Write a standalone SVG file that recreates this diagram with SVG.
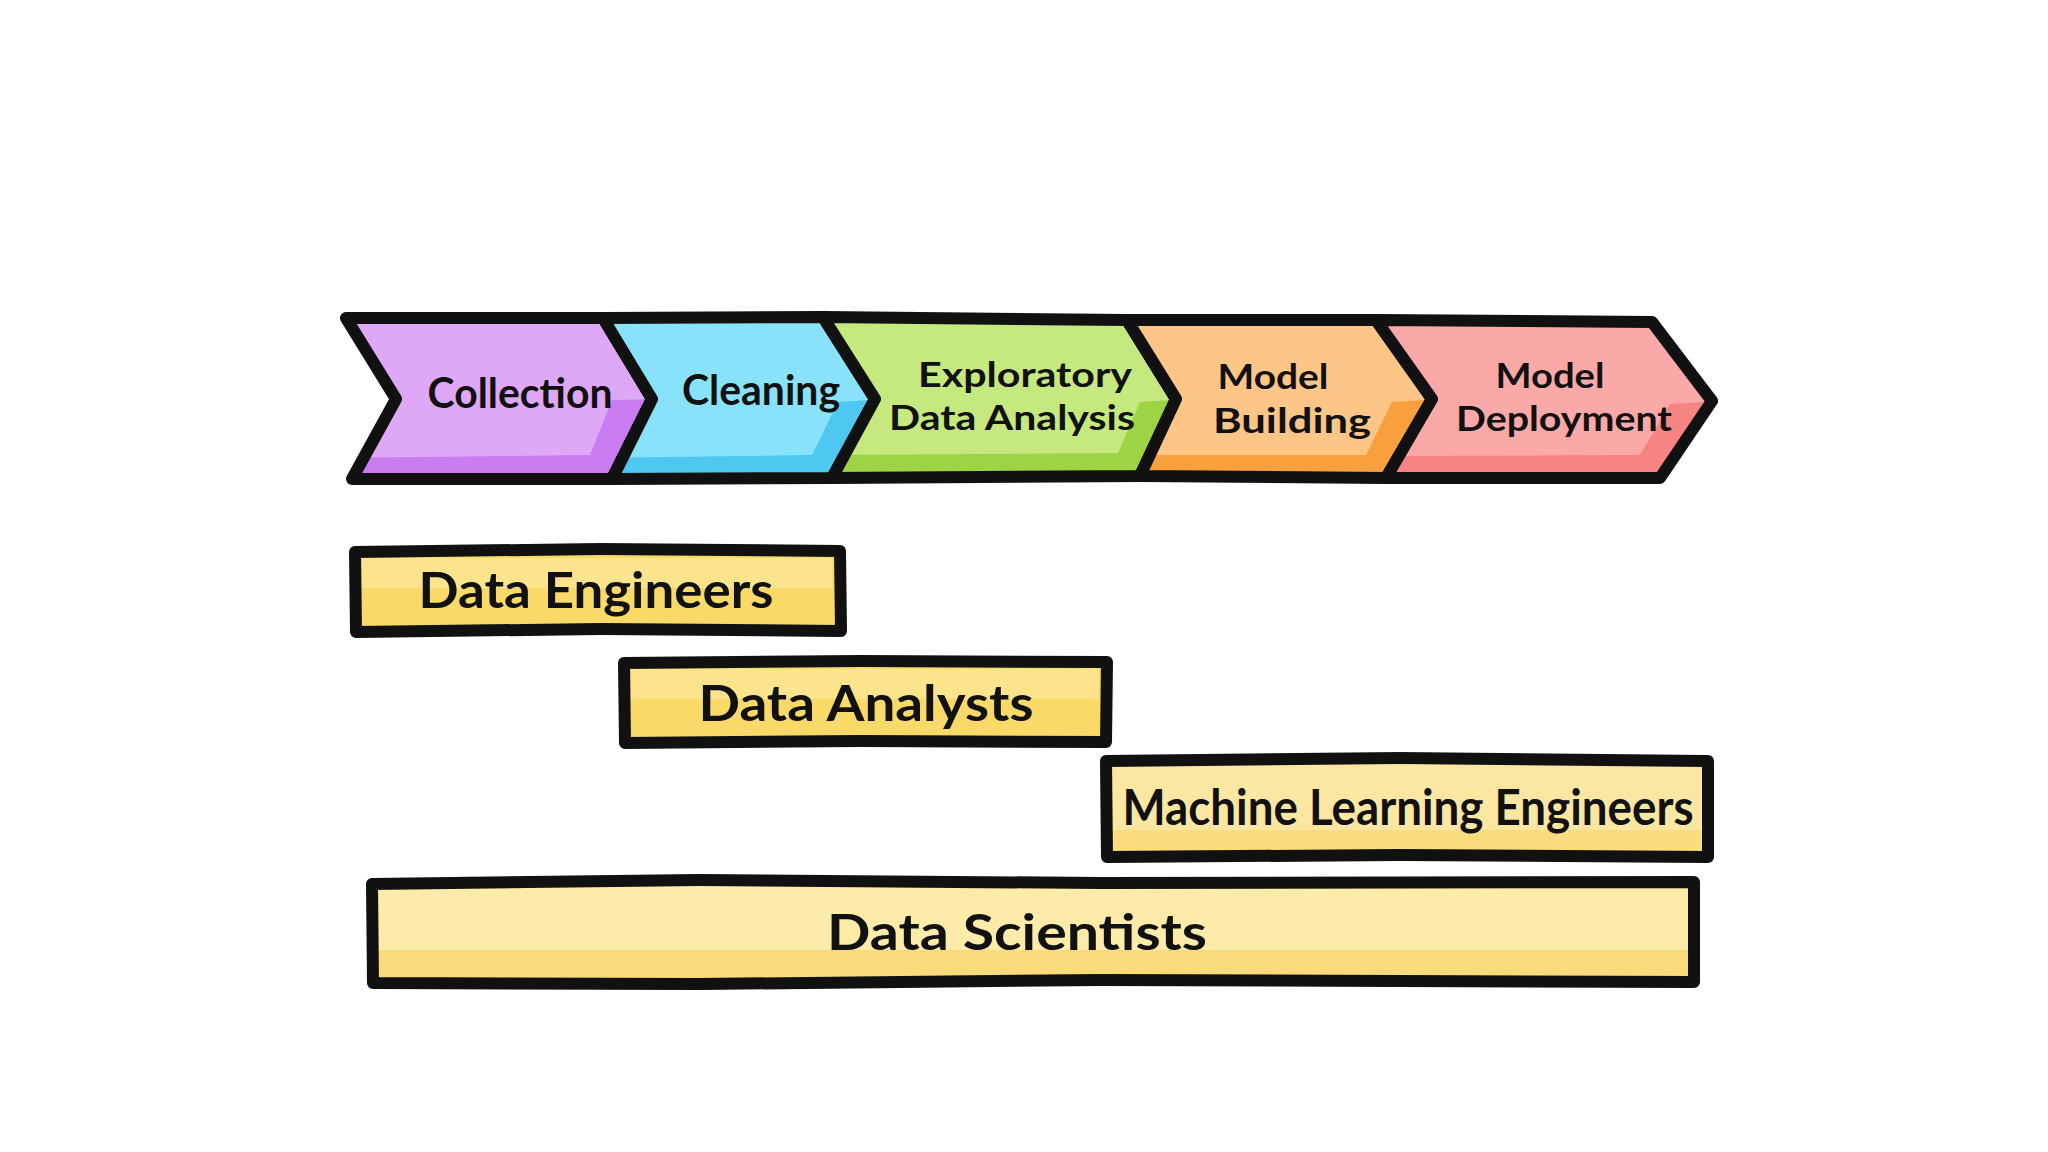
<svg xmlns="http://www.w3.org/2000/svg" width="2048" height="1152" viewBox="0 0 2048 1152">
<style>
.ol{fill:none;stroke:#111;stroke-width:12;stroke-linejoin:round;stroke-linecap:round}
.t{font-family:Lato,"Noto Sans","DejaVu Sans",sans-serif;font-weight:700;fill:#111;text-anchor:middle}
.ct{font-size:42px}
.ct2{font-size:35px}
.bt{font-size:50px}
</style>
<defs>
<clipPath id="c1"><path d="M346,318 L603,318 L652,399 L612,479 L352,479 L396,399 Z"/></clipPath>
<clipPath id="c2"><path d="M603,318 L823,317 L875,399 L832,478 L612,479 L652,399 Z"/></clipPath>
<clipPath id="c3"><path d="M823,317 L1127,320 L1176,399 L1140,476 L832,478 L875,399 Z"/></clipPath>
<clipPath id="c4"><path d="M1127,320 L1376,320 L1432,399 L1386,478 L1140,476 L1176,399 Z"/></clipPath>
<clipPath id="c5"><path d="M1376,320 L1652,322 L1712,401 L1660,478 L1386,478 L1432,399 Z"/></clipPath>
</defs>
<rect width="2048" height="1152" fill="#ffffff"/>
<g id="connectors"/>
<g id="collection">
<path d="M346,318 L603,318 L652,399 L612,479 L352,479 L396,399 Z" fill="#DEA8F6"/>
<path clip-path="url(#c1)" d="M612,400 L660,399 L630,490 L330,490 L330,458 L590,455 Z" fill="#C97DF0"/>
<path class="ol" d="M346,318 L603,318 L652,399 L612,479 L352,479 L396,399 Z"/>
<text class="t ct" x="520" y="408" textLength="185" lengthAdjust="spacingAndGlyphs">Collection</text>
</g>
<g id="cleaning">
<path d="M603,318 L823,317 L875,399 L832,478 L612,479 L652,399 Z" fill="#88E2FA"/>
<path clip-path="url(#c2)" d="M838,402 L885,399 L850,490 L590,490 L590,458 L812,455 Z" fill="#4EC8F1"/>
<path class="ol" d="M603,318 L823,317 L875,399 L832,478 L612,479 L652,399 Z"/>
<text class="t ct" x="761" y="405" textLength="158" lengthAdjust="spacingAndGlyphs">Cleaning</text>
</g>
<g id="eda">
<path d="M823,317 L1127,320 L1176,399 L1140,476 L832,478 L875,399 Z" fill="#C6E97F"/>
<path clip-path="url(#c3)" d="M1140,402 L1186,399 L1155,490 L810,490 L810,455 L1118,453 Z" fill="#9DD445"/>
<path class="ol" d="M823,317 L1127,320 L1176,399 L1140,476 L832,478 L875,399 Z"/>
<text class="t ct2" x="1025" y="387" textLength="214" lengthAdjust="spacingAndGlyphs">Exploratory</text>
<text class="t ct2" x="1012" y="430" textLength="246" lengthAdjust="spacingAndGlyphs">Data Analysis</text>
</g>
<g id="model-building">
<path d="M1127,320 L1376,320 L1432,399 L1386,478 L1140,476 L1176,399 Z" fill="#FDC586"/>
<path clip-path="url(#c4)" d="M1392,402 L1442,399 L1400,490 L1120,490 L1120,455 L1366,455 Z" fill="#F9A03E"/>
<path class="ol" d="M1127,320 L1376,320 L1432,399 L1386,478 L1140,476 L1176,399 Z"/>
<text class="t ct2" x="1273" y="389" textLength="111" lengthAdjust="spacingAndGlyphs">Model</text>
<text class="t ct2" x="1292" y="433" textLength="158" lengthAdjust="spacingAndGlyphs">Building</text>
</g>
<g id="model-deployment">
<path d="M1376,320 L1652,322 L1712,401 L1660,478 L1386,478 L1432,399 Z" fill="#FBA9A8"/>
<path clip-path="url(#c5)" d="M1670,404 L1722,401 L1675,490 L1370,490 L1370,456 L1640,455 Z" fill="#F68483"/>
<path class="ol" d="M1376,320 L1652,322 L1712,401 L1660,478 L1386,478 L1432,399 Z"/>
<text class="t ct2" x="1550" y="388" textLength="109" lengthAdjust="spacingAndGlyphs">Model</text>
<text class="t ct2" x="1564" y="431" textLength="216" lengthAdjust="spacingAndGlyphs">Deployment</text>
</g>
<g id="data-engineers">
<rect x="355" y="551" width="485" height="80" fill="#F9DA68"/>
<rect x="362" y="558" width="470" height="30" fill="#FBE48C"/>
<path class="ol" d="M355,552 L600,549 L840,551 L841,631 L600,629 L356,632 Z"/>
<text class="t bt" x="596" y="608" textLength="355" lengthAdjust="spacingAndGlyphs">Data Engineers</text>
</g>
<g id="data-analysts">
<rect x="624" y="662" width="483" height="80" fill="#F9DA68"/>
<rect x="631" y="669" width="468" height="30" fill="#FBE48C"/>
<path class="ol" d="M624,663 L860,661 L1107,662 L1106,742 L860,741 L625,743 Z"/>
<text class="t bt" x="866" y="721" textLength="335" lengthAdjust="spacingAndGlyphs">Data Analysts</text>
</g>
<g id="ml-engineers">
<rect x="1106" y="760" width="602" height="97" fill="#FCE7A2"/>
<rect x="1106" y="830" width="602" height="27" fill="#F9DC7E"/>
<path class="ol" d="M1106,761 L1400,758 L1708,761 L1708,857 L1400,855 L1107,857 Z"/>
<text class="t bt" x="1408" y="825" textLength="571" lengthAdjust="spacingAndGlyphs">Machine Learning Engineers</text>
</g>
<g id="data-scientists">
<rect x="372" y="882" width="1322" height="100" fill="#FDEBAA"/>
<rect x="372" y="950" width="1322" height="32" fill="#F9DB7C"/>
<path class="ol" d="M372,884 L700,880 L1100,883 L1694,882 L1694,982 L1100,980 L700,984 L373,983 Z"/>
<text class="t bt" x="1017" y="950" textLength="380" lengthAdjust="spacingAndGlyphs">Data Scientists</text>
</g>
</svg>
